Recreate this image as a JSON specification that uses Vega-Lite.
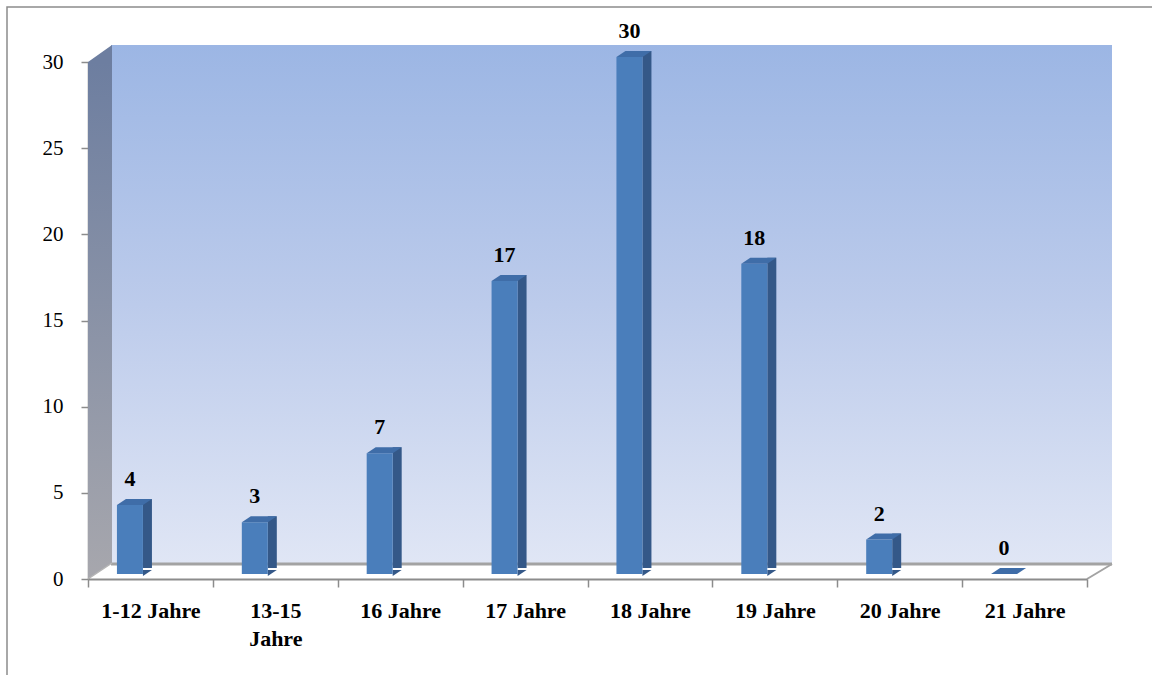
{
  "$schema": "https://vega.github.io/schema/vega-lite/v6.json",
  "autosize": "none",
  "width": 1146,
  "height": 669,
  "padding": {"left": 7, "top": 7, "right": 0, "bottom": 0},
  "background": "white",
  "config": {
    "view": {"stroke": "#8c8c8c", "strokeWidth": 1.5},
    "axis": {"grid": false, "title": null}
  },
  "data": {
    "values": [
      {"gruppe": "1-12 Jahre", "n": 4},
      {"gruppe": "13-15 Jahre", "n": 3},
      {"gruppe": "16 Jahre", "n": 7},
      {"gruppe": "17 Jahre", "n": 17},
      {"gruppe": "18 Jahre", "n": 30},
      {"gruppe": "19 Jahre", "n": 18},
      {"gruppe": "20 Jahre", "n": 2},
      {"gruppe": "21 Jahre", "n": 0}
    ]
  },
  "encoding": {
    "x": {
      "field": "gruppe",
      "type": "nominal",
      "sort": null,
      "scale": {
        "domain": ["1-12 Jahre", "13-15 Jahre", "16 Jahre", "17 Jahre", "18 Jahre", "19 Jahre", "20 Jahre", "21 Jahre"],
        "range": [81, 1080], "paddingInner": 0, "paddingOuter": 0
      },
      "axis": {
        "orient": "bottom",
        "offset": -97,
        "labelAngle": 0,
        "tickBand": "extent",
        "tickSize": 8,
        "tickColor": "#8c8c8c",
        "tickWidth": 1.5,
        "domainColor": "#8c8c8c",
        "domainWidth": 2,
        "labelFont": "Liberation Serif",
        "labelFontWeight": "bold",
        "labelFontSize": 22,
        "labelColor": "#000000",
        "labelPadding": 13,
        "labelLineHeight": 28,
        "labelExpr": "datum.label === '13-15 Jahre' ? ['13-15', 'Jahre'] : datum.label"
      }
    },
    "y": {
      "field": "n",
      "type": "quantitative",
      "scale": {"domain": [0, 30], "range": [572, 55], "nice": false},
      "axis": {
        "orient": "left",
        "offset": -81,
        "values": [0, 5, 10, 15, 20, 25, 30],
        "tickSize": 7,
        "tickColor": "#8c8c8c",
        "tickWidth": 1.5,
        "domainColor": "#8c8c8c",
        "domainWidth": 1.5,
        "labelFont": "Liberation Serif",
        "labelFontSize": 21,
        "labelColor": "#000000",
        "labelPadding": 18
      }
    }
  },
  "layer": [
    {
      "transform": [{"filter": "datum.gruppe === '1-12 Jahre'"}],
      "mark": {
        "type": "rect",
        "xOffset": 23, "x2Offset": 25, "yOffset": -15, "y2Offset": -17,
        "fill": {
          "gradient": "linear", "x1": 0, "y1": 0, "x2": 0, "y2": 1,
          "stops": [
            {"offset": 0, "color": "#9cb6e4"},
            {"offset": 0.5, "color": "#bccbeb"},
            {"offset": 1, "color": "#e0e6f5"}
          ]
        }
      },
      "encoding": {
        "x": {"datum": "1-12 Jahre", "bandPosition": 0},
        "x2": {"datum": "21 Jahre", "bandPosition": 1},
        "y": {"datum": 0},
        "y2": {"datum": 30}
      }
    },
    {
      "transform": [{"filter": "datum.gruppe === '1-12 Jahre'"}],
      "mark": {
        "type": "rect",
        "x2Offset": 24,
        "fill": {
          "gradient": "linear", "x1": 0, "y1": 0, "x2": 0, "y2": 1,
          "stops": [
            {"offset": 0, "color": "#6d7ea0"},
            {"offset": 1, "color": "#a7a7ad"}
          ]
        }
      },
      "encoding": {
        "x": {"datum": "1-12 Jahre", "bandPosition": 0},
        "x2": {"datum": "1-12 Jahre", "bandPosition": 0},
        "y": {"datum": 0},
        "y2": {"datum": 30}
      }
    },
    {
      "transform": [{"filter": "datum.gruppe === '1-12 Jahre'"}],
      "mark": {"type": "point", "shape": "M0,0 L24,-17 L24,0 Z", "size": 4, "filled": true, "opacity": 1, "strokeWidth": 0, "fill": "#6d7ea0"},
      "encoding": {
        "x": {"datum": "1-12 Jahre", "bandPosition": 0},
        "y": {"datum": 30}
      }
    },
    {
      "transform": [{"filter": "datum.gruppe === '1-12 Jahre'"}],
      "mark": {"type": "point", "shape": "M0,0 L24,0 L24,-16 Z", "size": 4, "filled": true, "opacity": 1, "strokeWidth": 0, "fill": "#ffffff"},
      "encoding": {
        "x": {"datum": "1-12 Jahre", "bandPosition": 0},
        "y": {"datum": 0}
      }
    },
    {
      "transform": [{"filter": "datum.gruppe === '1-12 Jahre'"}],
      "mark": {"type": "rule", "xOffset": 23, "x2Offset": 25, "yOffset": -15, "stroke": "#a3a3a3", "strokeWidth": 3},
      "encoding": {
        "x": {"datum": "1-12 Jahre", "bandPosition": 0},
        "x2": {"datum": "21 Jahre", "bandPosition": 1},
        "y": {"datum": 0}
      }
    },
    {
      "transform": [{"filter": "datum.gruppe === '21 Jahre'"}],
      "mark": {"type": "point", "shape": "M0,0 L25,-15", "size": 4, "filled": false, "opacity": 1, "stroke": "#a3a3a3", "strokeWidth": 2},
      "encoding": {
        "x": {"datum": "21 Jahre", "bandPosition": 1},
        "y": {"datum": 0}
      }
    },
    {
      "transform": [{"filter": "datum.gruppe === '1-12 Jahre'"}],
      "mark": {"type": "point", "shape": "M0,0 L24,-16", "size": 4, "filled": false, "opacity": 1, "stroke": "#b5b5b5", "strokeWidth": 1.5},
      "encoding": {
        "x": {"datum": "1-12 Jahre", "bandPosition": 0},
        "y": {"datum": 0}
      }
    },
    {
      "transform": [{"filter": "datum.n > 0"}],
      "mark": {"type": "bar", "width": 9, "xOffset": -3, "yOffset": -11, "y2Offset": -9, "fill": "#345888"}
    },
    {
      "transform": [{"filter": "datum.n > 0"}],
      "mark": {"type": "point", "shape": "M0,0 L0,-6 L9,-6 Z", "size": 4, "filled": true, "opacity": 1, "strokeWidth": 0, "fill": "#345888", "xOffset": -7.5, "yOffset": -3},
      "encoding": {"y": {"datum": 0}}
    },
    {
      "mark": {"type": "bar", "width": 26, "xOffset": -20.5, "yOffset": -5, "y2Offset": -3, "fill": "#4a7ebb"}
    },
    {
      "mark": {"type": "point", "shape": "M0,0 L9,-6 L35,-6 L26,0 Z", "size": 4, "filled": true, "opacity": 1, "strokeWidth": 0, "fill": "#3f6da8", "xOffset": -33.5, "yOffset": -5}
    },
    {
      "mark": {"type": "text", "xOffset": -20.5, "yOffset": -24, "baseline": "alphabetic", "align": "center", "font": "Liberation Serif", "fontWeight": "bold", "fontSize": 22, "color": "#000000"},
      "encoding": {"text": {"field": "n", "type": "quantitative"}}
    }
  ]
}
